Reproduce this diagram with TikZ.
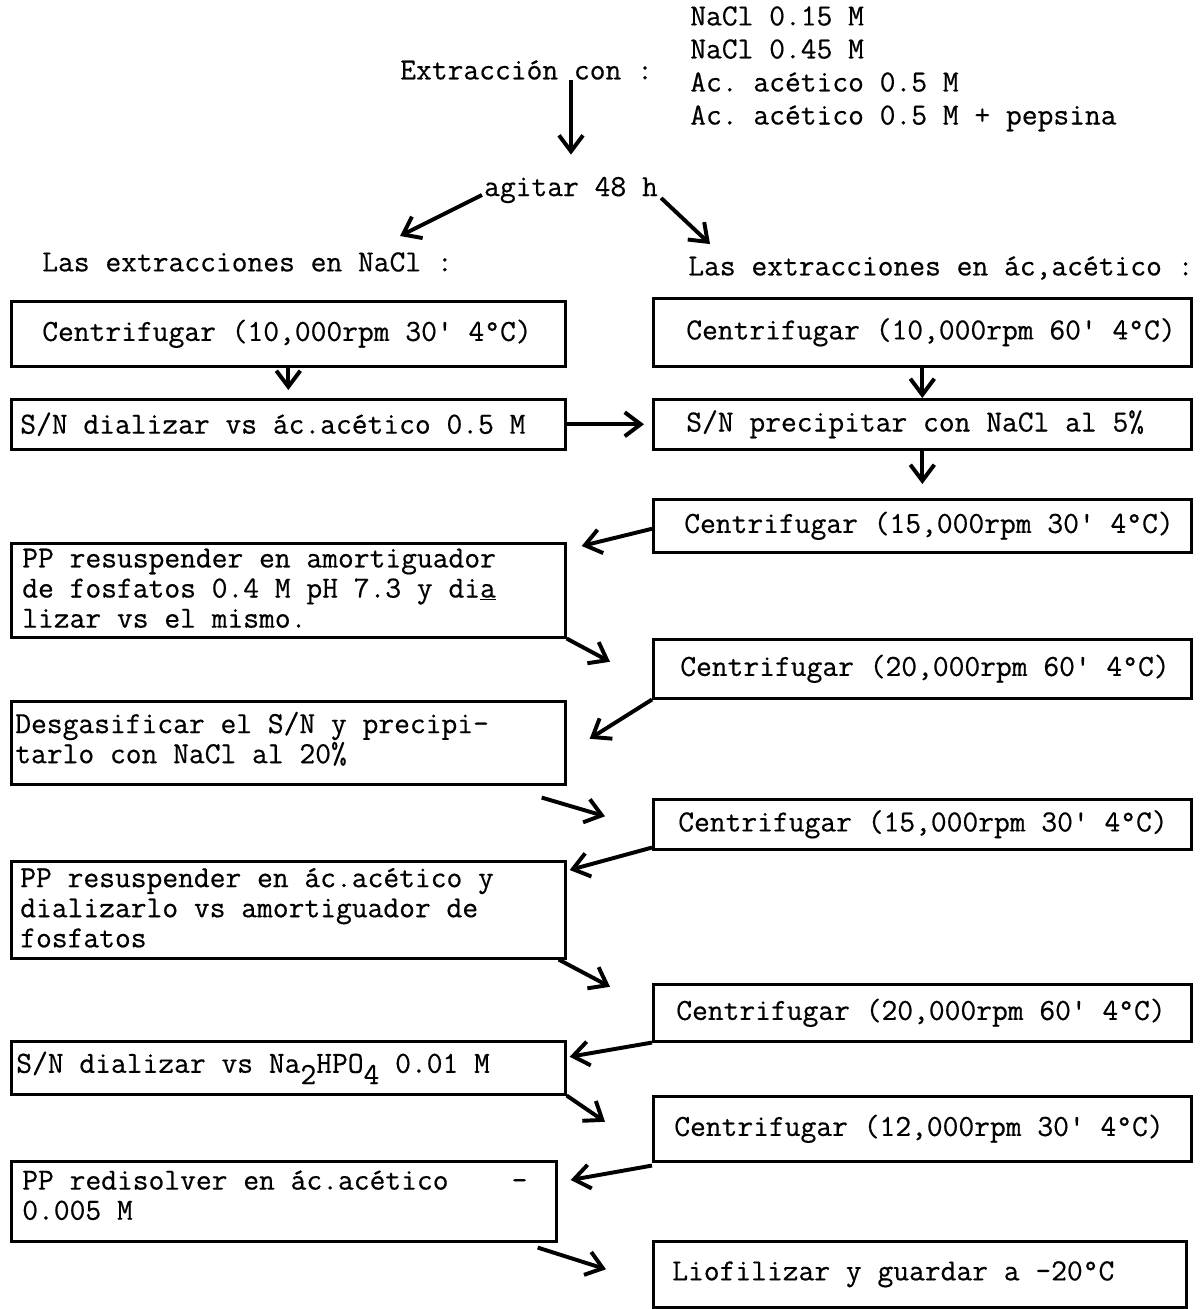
\documentclass[tikz,border=0pt]{standalone}
\usepackage{fontspec}
\setmonofont[FakeBold=0.5]{Latin Modern Mono}
\usetikzlibrary{arrows.meta,positioning,calc}

\tikzset{
	box/.style={draw, line width=1.8pt, inner sep=0pt, anchor=north west},
	lbox/.style={box, minimum width=13.85cm},
	rbox/.style={box, minimum width=13.45cm},
	txt/.style={font=\ttfamily\fontsize{21.8pt}{21.4pt}\selectfont, inner sep=0pt, align=left, anchor=west},
	flow/.style={line width=2.8pt, -{Straight Barb[length=4mm, width=6mm, line width=2.8pt]}},
}
\newcommand{\lowsub}[1]{\raisebox{-8pt}{#1}}

\begin{document}
\begin{tikzpicture}[x=0.025cm, y=-0.025cm]
				\useasboundingbox (0,0) rectangle (1202,1309);
				% Draw start
				\node[txt] (ext) at (400,70) {Extracción con :};
				\node[txt, anchor=north west, font=\ttfamily\fontsize{21.8pt}{23.5pt}\selectfont] (sol) at (690,6) {NaCl 0.15 M\\NaCl 0.45 M\\Ac. acético 0.5 M\\Ac. acético 0.5 M + pepsina};
				\node[txt, anchor=center] (agit) at (571,190) {agitar 48 h};
				\node[txt] (hnacl) at (42,262) {Las extracciones en NaCl :};
				\node[txt] (hacet) at (688,268) {Las extracciones en ác,acético :};
				% Draw boxes
				\node[lbox, minimum height=1.625cm] (l1) at (10,300) {};
				\node[lbox, minimum height=1.25cm] (l2) at (10,398) {};
				\node[lbox, minimum height=2.35cm] (l3) at (10,542) {};
				\node[lbox, minimum height=2.075cm] (l4) at (10,700) {};
				\node[lbox, minimum height=2.425cm] (l5) at (10,860) {};
				\node[lbox, minimum height=1.325cm] (l6) at (10,1040) {};
				\node[lbox, minimum width=13.625cm, minimum height=2cm] (l7) at (10,1160) {};
				\node[rbox, minimum height=1.7cm] (r1) at (652,297) {};
				\node[rbox, minimum height=1.25cm] (r2) at (652,398) {};
				\node[rbox, minimum height=1.325cm] (r3) at (652,498) {};
				\node[rbox, minimum height=1.475cm] (r4) at (652,638) {};
				\node[rbox, minimum height=1.25cm] (r5) at (652,798) {};
				\node[rbox, minimum height=1.425cm] (r6) at (652,983) {};
				\node[rbox, minimum height=1.625cm] (r7) at (652,1095) {};
				\node[rbox, minimum width=13.325cm, minimum height=1.65cm] (r8) at (652,1240) {};
				% Box texts
				\node[txt] (tl1) at ($(l1.west)+(32,0)$) {Centrifugar (10,000rpm 30' 4°C)};
				\node[txt] (tl2) at ($(l2.west)+(10,0)$) {S/N dializar vs ác.acético 0.5 M};
				\node[txt] (tl3) at ($(l3.west)+(12,-2)$) {PP resuspender en amortiguador\\de fosfatos 0.4 M pH 7.3 y di\underline{a}\\lizar vs el mismo.};
				\node[txt] (tl4) at ($(l4.west)+(5,-4)$) {Desgasificar el S/N y precipi-\\tarlo con NaCl al 20\%};
				\node[txt] (tl5) at ($(l5.west)+(10,-2)$) {PP resuspender en ác.acético y\\dializarlo vs amortiguador de\\fosfatos};
				\node[txt] (tl6) at ($(l6.west)+(6,0)$) {S/N dializar vs Na\lowsub{2}HPO\lowsub{4} 0.01 M};
				\node[txt] (tl7) at ($(l7.west)+(12,-6)$) {PP redisolver en ác.acético~~~~-\\0.005 M};
				\node[txt] (tr1) at ($(r1.west)+(34,0)$) {Centrifugar (10,000rpm 60' 4°C)};
				\node[txt] (tr2) at ($(r2.west)+(34,0)$) {S/N precipitar con NaCl al 5\%};
				\node[txt] (tr3) at ($(r3.west)+(32,0)$) {Centrifugar (15,000rpm 30' 4°C)};
				\node[txt] (tr4) at ($(r4.west)+(28,0)$) {Centrifugar (20,000rpm 60' 4°C)};
				\node[txt] (tr5) at ($(r5.west)+(26,0)$) {Centrifugar (15,000rpm 30' 4°C)};
				\node[txt] (tr6) at ($(r6.west)+(24,0)$) {Centrifugar (20,000rpm 60' 4°C)};
				\node[txt] (tr7) at ($(r7.west)+(22,0)$) {Centrifugar (12,000rpm 30' 4°C)};
				\node[txt] (tr8) at ($(r8.west)+(20,0)$) {Liofilizar y guardar a -20°C};
				% Draw arrows
				\draw[flow, shorten >=0.55cm] (ext.south -| agit) -- (agit.north);
				\draw[flow] ($(agit.west)+(-2,5)$) -- ($(hnacl.north east)+(-53,-16)$);
				\draw[flow] ($(agit.east)+(3,8)$) -- ($(hacet.north west)+(22,-12)$);
				\draw[flow, shorten >=0.2cm] (l1) -- (l2);
				\draw[flow] (r1) -- (r2.north);
				\draw[flow, shorten >=0.2cm] (l2) -- (r2);
				\draw[flow, shorten >=0.35cm] (r2) -- (r3);
				\draw[flow] ($(r3.west)+(0,3)$) -- ($(l3.north east)+(15,4)$);
				\draw[flow] (l3.south east) -- ($(r4.west)+(-42,-7)$);
				\draw[flow] (r4.south west) -- ($(l4.east)+(23,-4)$);
				\draw[flow] ($(l4.south east)+(-25,12)$) -- ($(r5.west)+(-47,-8)$);
				\draw[flow] ($(r5.south west)+(0,-3)$) -- ($(l5.north east)+(3,10)$);
				\draw[flow] ($(l5.south east)+(-8,0)$) -- ($(r6.west)+(-42,-26)$);
				\draw[flow] (r6.south west) -- ($(l6.east)+(3,-11)$);
				\draw[flow] (l6.south east) -- ($(r7.west)+(-47,-7)$);
				\draw[flow] ($(r7.south west)+(0,3)$) -- ($(l7.north east)+(13,20)$);
				\draw[flow] ($(l7.south east)+(-20,5)$) -- ($(r8.west)+(-46,-5)$);
			\end{tikzpicture}
\end{document}
